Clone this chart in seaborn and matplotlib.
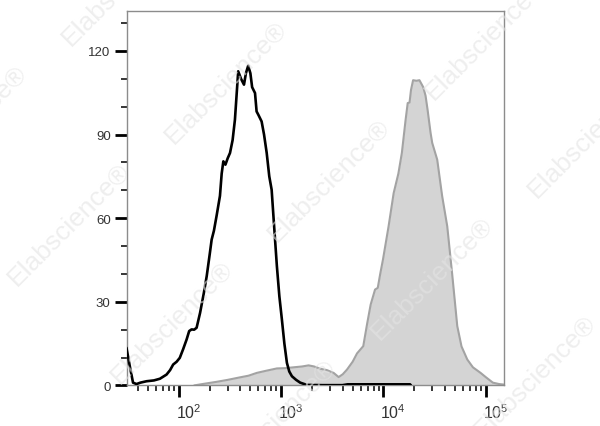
import numpy as np
import pandas as pd
import matplotlib
matplotlib.use("Agg")
import matplotlib.pyplot as plt
import matplotlib.ticker as mticker
import matplotlib.transforms as mtransforms
import seaborn as sns

# Control (unstained) histogram: fluorescence intensity vs count
control_x = [30.7, 33.1, 35.6, 38.5, 42, 48.2, 57, 65.2, 75.7, 82, 87.9, 95, 102, 110, 119,
             126, 133, 141, 149, 161, 175, 187, 200, 209, 220, 234, 252, 262, 272, 285,
             300, 316, 335, 353, 380, 405, 433, 452, 476, 500, 520, 555, 575, 600, 644,
             680, 722, 765, 807, 850, 908, 960, 1016, 1075, 1138, 1200, 1274, 1400, 1535,
             1778, 2500, 3981, 4467, 18197, 18600]
control_y = [13.5, 6.9, 1.0, 0.5, 1.0, 1.5, 1.8, 2.4, 3.9, 5.5, 7.5, 8.5, 9.9, 13, 16.5,
             19.5, 20.1, 20.0, 20.7, 26, 33, 39.2, 47, 52.3, 55.5, 61, 68, 76, 80.4, 79.2,
             81.5, 83.4, 88, 95.3, 112.7, 110, 107.9, 112, 114.7, 112, 107, 104.9, 98.3, 97, 94.7,
             90, 83.4, 75, 70.2, 58, 42.8, 32, 23.7, 15, 8.1, 5, 3.3, 2, 1.0,
             0.2, 0.1, 0.1, 0.4, 0.4, 0.0]

# Stained sample histogram
sample_x = [141, 170, 234, 300, 396, 480, 578, 700, 908, 1100, 1321, 1600, 1854, 2100, 2410,
            2800, 3258, 3648, 4000, 4406, 5000, 5521, 6350, 6918, 7500, 8280, 8800, 9300,
            9900, 11220, 12590, 14000, 15140, 16440, 17270, 18000, 18600, 19500, 21000,
            22500, 24500, 25800, 27000, 28910, 30000, 33570, 37500, 42070, 47000, 52720,
            58000, 66070, 75000, 89130, 100000, 117500, 135000, 151000]
sample_y = [0, 0.5, 1.3, 2, 2.9, 3.5, 4.5, 5.2, 6.1, 6.2, 6.5, 6.8, 7.2, 6.8, 6.0,
            5.5, 4.5, 3.0, 4, 5.7, 8.5, 11.5, 14.1, 22, 29, 34.4, 35, 40,
            45.2, 57, 69, 76, 83.4, 95, 101.3, 101.5, 106, 109.5, 109.3,
            109.5, 107, 104, 99, 90.6, 87, 81, 68, 57.1, 40, 21.3,
            14, 9.3, 6.5, 4.5, 3, 1, 0.5, 0.3]

y_ticks = [0, 30, 60, 90, 120]
watermark = "Elabscience®"

control = pd.DataFrame({"x": control_x, "y": control_y})
sample = pd.DataFrame({"x": sample_x, "y": sample_y})

sns.set_style("ticks")
plt.rcParams['font.family'] = ['Liberation Sans', 'DejaVu Sans']
plt.rcParams['mathtext.default'] = 'regular'

fig = plt.figure(figsize=(6, 4.27), dpi=100)
ax = fig.add_axes([0.211, 0.095, 0.629, 0.878])

# filled sample histogram
ax.fill_between(sample["x"], sample["y"], 0, color='#d4d4d4', linewidth=0, zorder=1)
sns.lineplot(data=sample, x="x", y="y", ax=ax, color='#a3a3a3', linewidth=1.5,
             sort=False, estimator=None, zorder=2)
# control histogram outline
sns.lineplot(data=control, x="x", y="y", ax=ax, color='black', linewidth=1.9,
             sort=False, estimator=None, zorder=3)

ax.set_xscale("log")
ax.set_xlim(30.8, 1.51e5)
ax.set_ylim(0, 134.5)
ax.set_xlabel("")
ax.set_ylabel("")

ax.set_yticks(y_ticks)
ax.yaxis.set_minor_locator(mticker.MultipleLocator(10))
ax.xaxis.set_major_locator(mticker.LogLocator(base=10, numticks=10))
ax.xaxis.set_minor_locator(mticker.LogLocator(base=10, subs=np.arange(2, 10), numticks=20))
ax.xaxis.set_minor_formatter(mticker.NullFormatter())

ax.tick_params(axis='both', which='major', length=8.5, width=2, color='black',
               labelcolor='#333333')
ax.tick_params(axis='both', which='minor', length=4, width=1.1, color='black')
ax.tick_params(axis='y', which='major', labelsize=9.5, pad=3)
ax.tick_params(axis='x', which='major', labelsize=11.5, pad=3.5)

# x labels sit just to the right of their ticks in the original
shift = mtransforms.ScaledTranslation(7 / 72, 0, fig.dpi_scale_trans)
for lab in ax.get_xticklabels():
    lab.set_transform(lab.get_transform() + shift)

for side in ['left', 'right', 'top', 'bottom']:
    ax.spines[side].set_color('#8c8c8c')
    ax.spines[side].set_linewidth(1.0)

# faint watermark grid
wm_pos = [(226, 83), (329, 181), (432, 279), (535, 377), (486, 39), (589, 137),
          (69, 225), (172, 323), (275, 421), (-34, 127), (123, -15)]
for px, py in wm_pos:
    fig.text(px / 600, 1 - py / 427, watermark, rotation=45, fontsize=19,
             color='#e4e4e4', alpha=0.6, ha='center', va='center', zorder=10)

fig.savefig("out.png", dpi=100)
